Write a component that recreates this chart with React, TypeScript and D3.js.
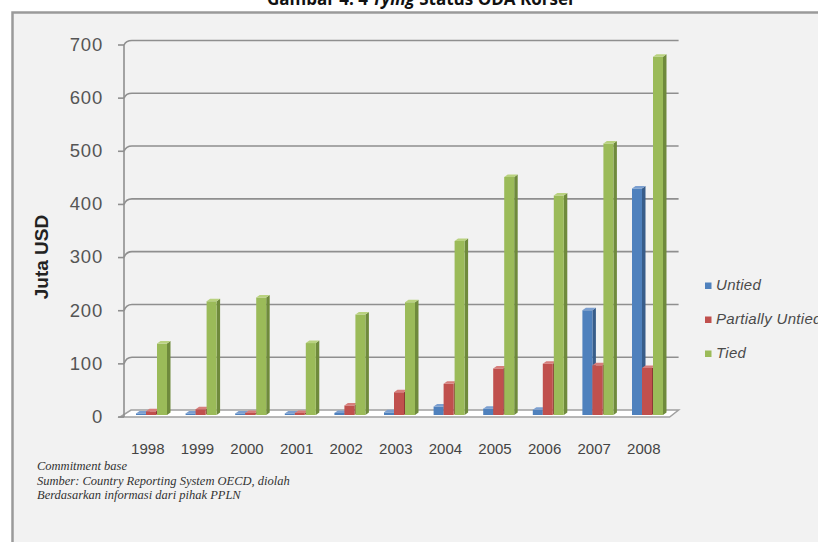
import React from "react";
import * as d3 from "d3";

// Commitment amounts (Juta USD) by tying status, 1998–2008
const years = ["1998", "1999", "2000", "2001", "2002", "2003", "2004", "2005", "2006", "2007", "2008"];
const untied = [3, 3, 3, 3, 4, 5, 16, 12, 10, 198, 428];
const partiallyUntied = [7, 11, 4, 4, 18, 43, 59, 88, 97, 94, 89];
const tied = [135, 215, 222, 136, 190, 213, 329, 450, 415, 513, 677];
const seriesNames = ["Untied", "Partially Untied", "Tied"];
const yTicks = [0, 100, 200, 300, 400, 500, 600, 700];
const footnotes = [
  "Commitment base",
  "Sumber: Country Reporting System OECD, diolah",
  "Berdasarkan  informasi dari pihak PPLN",
];

const W = 818;
const H = 542;

const palette = [
  { front: "#4f81bd", side: "#385d8a", top: "#7b9fd0" },
  { front: "#c0504d", side: "#8c3836", top: "#d77e7b" },
  { front: "#9bbb59", side: "#6f8a3c", top: "#b9d27f" },
];

// 3D-ish plot geometry
const x0 = 124;
const x1 = 669.6;
const depthX = 8;
const floorFront = 417;
const floorBack = 410;

const xBand = d3.scaleBand<string>().domain(years).range([x0, x1]).padding(0);
const yFront = d3.scaleLinear().domain([0, 700]).range([floorFront, 45]);
const yBack = d3.scaleLinear().domain([0, 700]).range([floorBack, 40.5]);
const yBar = d3.scaleLinear().domain([0, 700]).range([415, 415 - 700 * 0.529]);

const barOffsets = [12, 22, 33];
const barW = 10;
const sideDx = 3.5;
const sideDy = 2.5;

function Bar({ x, v, c }: { x: number; v: number; c: (typeof palette)[number] }) {
  const yb = yBar(0);
  const yt = yBar(v);
  const front = `M${x},${yb}L${x + barW},${yb}L${x + barW},${yt}L${x},${yt}Z`;
  const side = `M${x + barW},${yb}L${x + barW + sideDx},${yb - sideDy}L${x + barW + sideDx},${yt - sideDy}L${x + barW},${yt}Z`;
  const top = `M${x},${yt}L${x + barW},${yt}L${x + barW + sideDx},${yt - sideDy}L${x + sideDx},${yt - sideDy}Z`;
  return (
    <g>
      <path d={side} fill={c.side} />
      <path d={front} fill={c.front} />
      <path d={top} fill={c.top} />
    </g>
  );
}

export default function App() {
  const data = [untied, partiallyUntied, tied];
  return (
    <svg
      width={W}
      height={H}
      style={{ position: "absolute", left: 0, top: 0, display: "block" }}
      fontFamily="'Liberation Sans', Arial, sans-serif"
    >
      <rect x={0} y={0} width={W} height={H} fill="#ffffff" />
      {/* chart frame */}
      <rect x={12.5} y={12.5} width={W + 10} height={H + 10} fill="#f2f2f2" stroke="#9a9a9a" strokeWidth={2.5} />

      {/* title, partly above the page edge */}
      <text x={420} y={5} textAnchor="middle" fontFamily="'Open Sans', sans-serif" fontWeight={700} fontSize={17} fill="#111">
        Gambar 4. 4 <tspan fontStyle="italic">Tying</tspan> Status ODA Korsel
      </text>

      {/* floor */}
      <path
        d={`M${x0 - 4},${floorFront}L${x1},${floorFront}L${x1 + depthX + 1},${floorBack}L${x0 + depthX - 1},${floorBack}Z`}
        fill="#ffffff"
        stroke="#a0a0a0"
        strokeWidth={1.5}
      />

      {/* gridlines: side wall diagonal + back wall */}
      {yTicks.map((t) => (
        <g key={t}>
          {t > 0 && (
            <path
              d={`M${x0},${yFront(t)}Q${x0 + 2},${yBack(t)} ${x0 + depthX},${yBack(t)}L${x1 + depthX + 1},${yBack(t)}`}
              fill="none"
              stroke="#8f8f8f"
              strokeWidth={1.6}
            />
          )}
          <line x1={x0 - 6} x2={x0} y1={yFront(t)} y2={yFront(t)} stroke="#8f8f8f" strokeWidth={1.6} />
          <text
            x={103}
            y={yFront(t) + 1}
            textAnchor="end"
            dominantBaseline="middle"
            fontSize={18.5}
            letterSpacing={0.8}
            fill="#555"
          >
            {t}
          </text>
        </g>
      ))}
      {/* value axis */}
      <line x1={x0} x2={x0} y1={yFront(700)} y2={floorFront} stroke="#8f8f8f" strokeWidth={1.6} />

      {/* bars */}
      {years.map((yr, i) => (
        <g key={yr}>
          {data.map((s, k) => (
            <Bar key={k} x={(xBand(yr) as number) + barOffsets[k]} v={s[i]} c={palette[k]} />
          ))}
        </g>
      ))}

      {/* category labels */}
      {years.map((yr) => (
        <text
          key={yr}
          x={(xBand(yr) as number) + xBand.bandwidth() / 2 - 1}
          y={450}
          textAnchor="middle"
          dominantBaseline="middle"
          fontSize={15}
          fill="#444"
        >
          {yr}
        </text>
      ))}

      {/* axis title */}
      <text
        transform="translate(43,257) rotate(-90)"
        textAnchor="middle"
        dominantBaseline="middle"
        fontWeight={700}
        fontSize={19}
        fill="#222"
      >
        Juta USD
      </text>

      {/* legend */}
      {seriesNames.map((n, k) => (
        <g key={n} transform={`translate(705,${286 + k * 34})`}>
          <rect x={0} y={-3.5} width={6.5} height={6.5} fill={palette[k].front} />
          <text x={11} y={0.5} dominantBaseline="middle" fontStyle="italic" fontSize={15} letterSpacing={0.3} fill="#4a4a4a">
            {n}
          </text>
        </g>
      ))}

      {/* notes */}
      {footnotes.map((f, k) => (
        <text
          key={k}
          x={37}
          y={470 + k * 14.5}
          fontFamily="'Liberation Serif', 'Times New Roman', serif"
          fontStyle="italic"
          fontSize={12.5}
          fill="#333"
        >
          {f}
        </text>
      ))}
    </svg>
  );
}
